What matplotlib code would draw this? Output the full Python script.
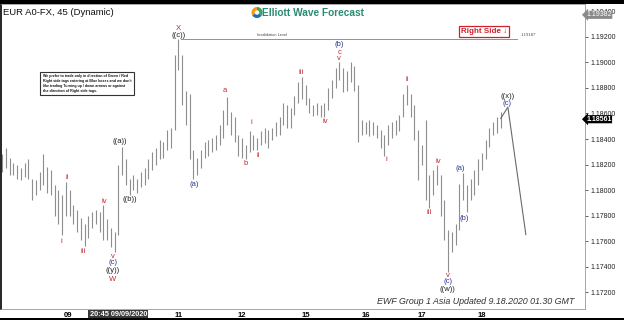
import matplotlib
matplotlib.use('Agg')
import matplotlib.pyplot as plt
from matplotlib.patches import Rectangle, Wedge

plt.rcParams['font.family'] = ['Liberation Sans', 'DejaVu Sans']

# 90-minute bars, EUR/USD 8-18 Sep 2020
highs = [1.1828, 1.1833, 1.1825, 1.1821, 1.1820, 1.1817, 1.1821, 1.1824, 1.1809, 1.1808,
         1.1814, 1.1828, 1.1818, 1.1816, 1.1804, 1.1800, 1.1796, 1.1806, 1.1800, 1.1788,
         1.1784, 1.1778, 1.1773, 1.1780, 1.1783, 1.1784, 1.1783, 1.1788, 1.1777, 1.1770,
         1.1767, 1.1820, 1.1834, 1.1824, 1.1809, 1.1812, 1.1809, 1.1814, 1.1817, 1.1824,
         1.1830, 1.1833, 1.1839, 1.1838, 1.1847, 1.1849, 1.1906, 1.19187, 1.1906, 1.1878,
         1.1875, 1.1831, 1.1825, 1.1831, 1.1838, 1.1839, 1.1841, 1.1843, 1.1851, 1.1863,
         1.1873, 1.1861, 1.1857, 1.1843, 1.1841, 1.1835, 1.1846, 1.1843, 1.1841, 1.1846,
         1.1849, 1.1847, 1.1849, 1.1853, 1.1857, 1.1868, 1.1867, 1.1864, 1.1874, 1.1885,
         1.1889, 1.1882, 1.1872, 1.1867, 1.1868, 1.1867, 1.1868, 1.1880, 1.1886, 1.1896,
         1.1900, 1.1896, 1.1893, 1.1900, 1.1897, 1.1882, 1.1855, 1.1853, 1.1855, 1.1853,
         1.1851, 1.1847, 1.1843, 1.1851, 1.1853, 1.1855, 1.1859, 1.1875, 1.1882, 1.1875,
         1.1867, 1.1847, 1.1835, 1.1855, 1.1812, 1.1816, 1.1820, 1.1812, 1.1792, 1.1769,
         1.1767, 1.1773, 1.1805, 1.1813, 1.1804, 1.1809, 1.1816, 1.1824, 1.1829, 1.1839,
         1.1849, 1.1853, 1.1857, 1.1861]
lows = [1.1814, 1.1817, 1.1812, 1.1812, 1.1809, 1.1808, 1.1810, 1.1809, 1.1792, 1.1796,
        1.1800, 1.1804, 1.1798, 1.1796, 1.1780, 1.1773, 1.1765, 1.1780, 1.1780, 1.1773,
        1.1767, 1.1761, 1.1756, 1.1762, 1.1770, 1.1773, 1.1767, 1.1761, 1.1761, 1.1755,
        1.1751, 1.1765, 1.1812, 1.1804, 1.1796, 1.1800, 1.1798, 1.1802, 1.1804, 1.1809,
        1.1816, 1.1820, 1.1824, 1.1825, 1.1831, 1.1833, 1.1847, 1.1894, 1.1867, 1.1851,
        1.1824, 1.1809, 1.1812, 1.1817, 1.1825, 1.1827, 1.1830, 1.1831, 1.1835, 1.1841,
        1.1851, 1.1843, 1.1838, 1.1827, 1.1825, 1.1824, 1.1830, 1.1831, 1.1831, 1.1835,
        1.1837, 1.1833, 1.1839, 1.1842, 1.1843, 1.1851, 1.1849, 1.1849, 1.1859, 1.1868,
        1.1871, 1.1867, 1.1860, 1.1858, 1.1859, 1.1857, 1.1857, 1.1863, 1.1872, 1.1880,
        1.1886, 1.1877, 1.1878, 1.1885, 1.1878, 1.1838, 1.1843, 1.1844, 1.1842, 1.1843,
        1.1841, 1.1833, 1.1827, 1.1835, 1.1841, 1.1843, 1.1846, 1.1857, 1.1867, 1.1857,
        1.1839, 1.1808, 1.1820, 1.1792, 1.1786, 1.1796, 1.1804, 1.1780, 1.1761, 1.17357,
        1.1751, 1.1757, 1.1769, 1.1792, 1.1783, 1.1792, 1.1796, 1.1804, 1.1816, 1.1824,
        1.1834, 1.1843, 1.1845, 1.1849]

last_price = 1.18561
top_price = 1.19382
invalidation = 1.19187

# expected path drawn after the last bar
proj_idx = [133, 134.9, 139.7]
proj_price = [last_price, 1.1865, 1.1765]

day_pos = [17.6, 47, 64, 81, 97, 112, 128]
day_names = ['09', '11', '12', '15', '16', '17', '18']
price_ticks = [1.172, 1.174, 1.176, 1.178, 1.180, 1.182, 1.184, 1.186, 1.188, 1.190, 1.192, 1.194]

RED = '#c0282d'
BLUE = '#2b3590'
BLK = '#222222'
wave_labels = [
    ('X', 47, 1.19263, RED), ('((c))', 47, 1.19208, BLK),
    ('((a))', 31.5, 1.18377, BLK), ('((b))', 34.1, 1.17922, BLK),
    ('i', 15.7, 1.17593, RED), ('ii', 17.3, 1.18095, RED), ('iii', 21.6, 1.17514, RED),
    ('iv', 27.2, 1.17906, RED), ('v', 29.6, 1.17475, RED), ('(c)', 29.6, 1.17428, BLUE),
    ('((y))', 29.6, 1.17365, BLK), ('W', 29.6, 1.17295, RED),
    ('(a)', 51.2, 1.18047, BLUE), ('a', 59.5, 1.18777, RED), ('b', 65.1, 1.18204, RED),
    ('i', 66.4, 1.18526, RED), ('ii', 68.3, 1.18267, RED), ('iii', 79.7, 1.18918, RED),
    ('iv', 86.1, 1.18541, RED), ('(b)', 89.9, 1.19145, BLUE), ('c', 89.9, 1.19082, RED),
    ('v', 89.9, 1.19035, RED),
    ('i', 102.4, 1.18243, RED), ('ii', 108, 1.18863, RED), ('iii', 113.9, 1.17820, RED),
    ('iv', 116.3, 1.18220, RED), ('v', 118.9, 1.17326, RED), ('(c)', 118.9, 1.17279, BLUE),
    ('((w))', 118.9, 1.17216, BLK),
    ('(a)', 122.1, 1.18165, BLUE), ('(b)', 123.2, 1.17773, BLUE),
    ('((x))', 134.7, 1.18737, BLK), ('(c)', 134.7, 1.18682, BLUE),
]

fig = plt.figure(figsize=(6.24, 3.2), dpi=100)
ax = fig.add_axes([1 / 624, 11 / 320, 584 / 624, 305 / 320])

idx = list(range(len(highs)))
ax.vlines(idx, lows, highs, color='#8e8e8e', linewidth=0.8)
ax.plot(proj_idx, proj_price, color='#6a6a6a', linewidth=0.8)

# invalidation level
ax.plot([47.6, 137.3], [invalidation, invalidation], color='#d9737a', linewidth=0.7)
ax.text(72, invalidation + 0.00012, 'Invalidation Level', fontsize=2.8, color='#444444',
        ha='center', va='bottom')
ax.text(138.2, invalidation + 0.0001, f'{invalidation:.5f}', fontsize=3.4, color='#444444',
        family='Liberation Serif', ha='left', va='bottom')

for txt, x, y, c in wave_labels:
    ax.text(x, y, txt, fontsize=5.5, color=c, ha='center', va='center')

ax.set_xlim(-0.27, 155.47)
ax.set_ylim(1.170667, 1.194588)

ax.yaxis.tick_right()
ax.set_yticks(price_ticks)
ax.set_yticklabels([f'{p:.5f}' for p in price_ticks])
ax.tick_params(axis='y', labelsize=5, length=2, pad=2, colors='#222222', width=0.5)
ax.set_xticks(day_pos)
ax.set_xticklabels(day_names)
ax.tick_params(axis='x', labelsize=5.5, length=0, pad=2)
for lbl in ax.get_xticklabels():
    lbl.set_fontweight('bold')

for s in ['top', 'bottom', 'right']:
    ax.spines[s].set_color('#999999')
    ax.spines[s].set_linewidth(0.6)
ax.spines['left'].set_color('black')
ax.spines['left'].set_linewidth(1.2)

# crosshair date box
ax.text(31, 1.170667 - 0.00042, '20:45 09/09/2020', fontsize=5.3, color='white',
        ha='center', va='center', fontweight='bold',
        bbox=dict(boxstyle='square,pad=0.15', fc='#3a3a3a', ec='none'), clip_on=False)

# price flags on the right scale (they sit over the nearby scale labels)
ax.text(1.002, last_price - 0.00006, f'{last_price:.5f}', transform=ax.get_yaxis_transform(),
        fontsize=5, color='white', ha='left', va='center', fontweight='bold', zorder=5,
        bbox=dict(boxstyle='larrow,pad=0.08', fc='black', ec='none'))
ax.text(1.002, top_price - 0.00008, f'{top_price:.5f}', transform=ax.get_yaxis_transform(),
        fontsize=5, color='white', ha='left', va='center', zorder=5,
        bbox=dict(boxstyle='larrow,pad=0.08', fc='#8a8a8a', ec='none'))

# header texts
ax.text(0.004, 0.988, 'EUR A0-FX, 45 (Dynamic)', transform=ax.transAxes, fontsize=6.8,
        ha='left', va='top', color='#111111')
fig.text(313 / 624, 1 - 12.5 / 320, 'Elliott Wave Forecast', fontsize=7.3, fontweight='bold',
         color='#2b8b70', ha='center', va='center')
logo_cols = ['#f39a1e', '#1f6fb5', '#3aa655']
for k, col in enumerate(logo_cols):
    w = Wedge((257, 320 - 12.5), 5.5, 90 + k * 120, 210 + k * 120, fc=col, ec='none',
              transform=None)
    fig.patches.append(w)
fig.patches.append(Wedge((257, 320 - 12.5), 2.2, 0, 360, fc='white', ec='none', transform=None))

fig.text(484 / 624, 1 - 31.5 / 320, 'Right Side \u2193', fontsize=5.8, fontweight='bold',
         color='#d0202a', ha='center', va='center',
         bbox=dict(boxstyle='square,pad=0.25', fc='white', ec='#d0202a', lw=0.9))

note = ("We prefer to trade only in direction of Green / Red\n"
        "Right side tags entering at Blue boxes and we don't\n"
        "like trading Turning up / down arrows or against\n"
        "the direction of Right side tags.")
fig.text(43 / 624, 1 - 83.5 / 320, note, fontsize=2.6, fontweight='bold', ha='left',
         va='center', linespacing=1.3, color='#111111',
         bbox=dict(boxstyle='square,pad=0.7', fc='white', ec='#333333', lw=0.8))

fig.text(574 / 624, 1 - 301 / 320, 'EWF Group 1 Asia Updated 9.18.2020 01.30 GMT',
         fontsize=6.4, style='italic', color='#333333', ha='right', va='center')

# black screen strips at top and bottom
fig.patches.append(Rectangle((0, 1 - 3.5 / 320), 1, 3.5 / 320, transform=fig.transFigure,
                             fc='black', ec='none'))
fig.patches.append(Rectangle((0, 0), 1, 2 / 320, transform=fig.transFigure,
                             fc='black', ec='none'))

fig.savefig('out.png', dpi=100)
